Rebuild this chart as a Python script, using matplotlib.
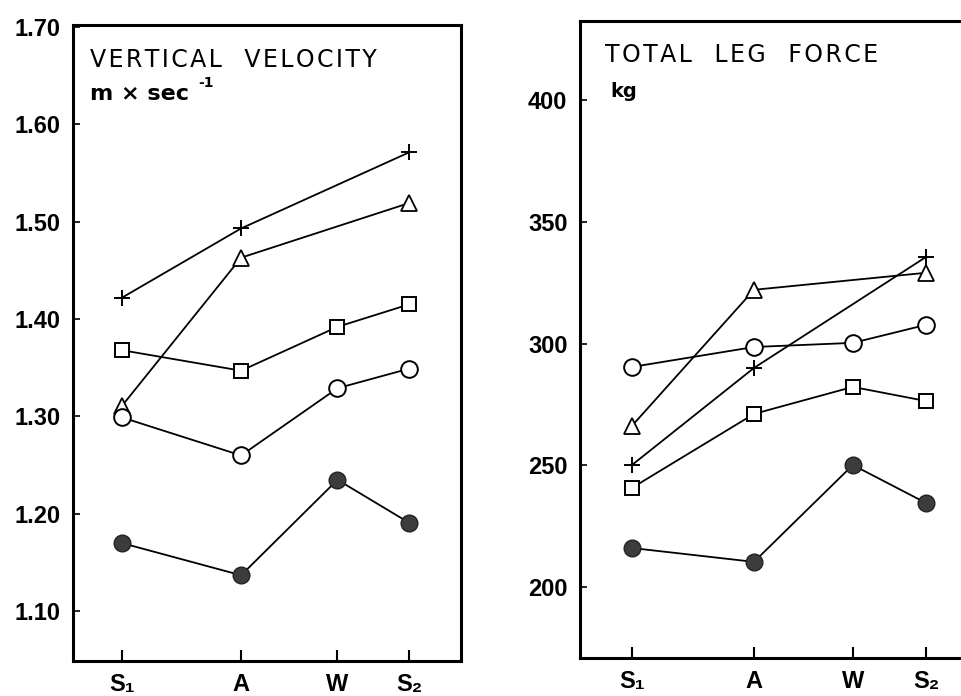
import numpy as np
import matplotlib
matplotlib.use("Agg")
import matplotlib.pyplot as plt

# ---- data ----
categories = ["S\u2081", "A", "W", "S\u2082"]
cat_pos = [1.0, 2.0, 2.81, 3.41]

vel_plus = [1.422, 1.493, None, 1.571]
vel_tri = [1.311, 1.463, None, 1.519]
vel_square = [1.368, 1.347, 1.392, 1.415]
vel_circle = [1.299, 1.260, 1.329, 1.349]
vel_filled = [1.170, 1.137, 1.235, 1.191]

force_plus = [250.1, 290.0, None, 335.6]
force_tri = [266.2, 322.1, None, 329.1]
force_square = [240.7, 271.1, 282.2, 276.4]
force_circle = [290.4, 298.6, 300.3, 307.7]
force_filled = [216.0, 210.3, 250.1, 234.5]

vel_ticks = [1.10, 1.20, 1.30, 1.40, 1.50, 1.60, 1.70]
vel_ticklabels = ["1.10", "1.20", "1.30", "1.40", "1.50", "1.60", "1.70"]
force_ticks = [200, 250, 300, 350, 400]
force_ticklabels = ["200", "250", "300", "350", "400"]

FAM = ["Liberation Sans", "DejaVu Sans"]

fig = plt.figure(figsize=(9.61, 6.96), dpi=100)
fig.patch.set_facecolor("white")

ax1 = fig.add_axes([0.076, 0.0503, 0.404, 0.914])
ax2 = fig.add_axes([0.6035, 0.0546, 0.416, 0.915])

styles = [
    dict(marker="+", ms=12, mfc="none", mec="black", mew=1.4),
    dict(marker="^", ms=12, mfc="white", mec="black", mew=1.3),
    dict(marker="s", ms=10, mfc="white", mec="black", mew=1.4),
    dict(marker="o", ms=12, mfc="white", mec="black", mew=1.4),
    dict(marker="o", ms=12, mfc="#3c3c3c", mec="#222222", mew=1.0),
]


def plot_series(ax, series):
    for vals, st in zip(series, styles):
        xs = [x for x, v in zip(cat_pos, vals) if v is not None]
        ys = [v for v in vals if v is not None]
        ax.plot(xs, ys, color="black", lw=1.3, marker=st["marker"], ms=st["ms"],
                mfc=st["mfc"], mec=st["mec"], mew=st["mew"], zorder=3)


plot_series(ax1, [vel_plus, vel_tri, vel_square, vel_circle, vel_filled])
plot_series(ax2, [force_plus, force_tri, force_square, force_circle, force_filled])

ax1.set_xlim(0.588, 3.85)
ax1.set_ylim(1.049, 1.702)
ax2.set_xlim(0.574, 3.85)
ax2.set_ylim(170.8, 432.5)

for ax, ticks, labels in [(ax1, vel_ticks, vel_ticklabels), (ax2, force_ticks, force_ticklabels)]:
    ax.set_xticks(cat_pos)
    ax.set_xticklabels(categories)
    ax.set_yticks(ticks)
    ax.set_yticklabels(labels)
    ax.tick_params(axis="x", direction="in", length=8, width=1.5, pad=9,
                   labelsize=17)
    ax.tick_params(axis="y", direction="in", length=5, width=1.2, pad=9,
                   labelsize=17)
    for lab in ax.get_xticklabels() + ax.get_yticklabels():
        lab.set_fontweight("bold")
        lab.set_family(FAM)
    for sp in ax.spines.values():
        sp.set_linewidth(2.2)

ax2.spines["right"].set_visible(False)

hs = "\u200a"
title1 = "   ".join(hs.join(w) for w in ["VERTICAL", "VELOCITY"])
title2 = "   ".join(hs.join(w) for w in ["TOTAL", "LEG", "FORCE"])

ax1.text(0.044, 0.934, title1, transform=ax1.transAxes,
         fontsize=17, va="baseline", ha="left", family="DejaVu Sans")
ax1.text(0.044, 0.882, "m \u00d7 sec", transform=ax1.transAxes,
         fontsize=16, va="baseline", ha="left", fontweight="bold", family="DejaVu Sans")
ax1.text(0.322, 0.902, "-1", transform=ax1.transAxes,
         fontsize=10, va="baseline", ha="left", fontweight="bold", family="DejaVu Sans")

ax2.text(0.0625, 0.936, title2, transform=ax2.transAxes,
         fontsize=17, va="baseline", ha="left", family="DejaVu Sans")
ax2.text(0.075, 0.881, "kg", transform=ax2.transAxes,
         fontsize=14, va="baseline", ha="left", fontweight="bold", family="DejaVu Sans")

fig.savefig("out.png", dpi=100)
